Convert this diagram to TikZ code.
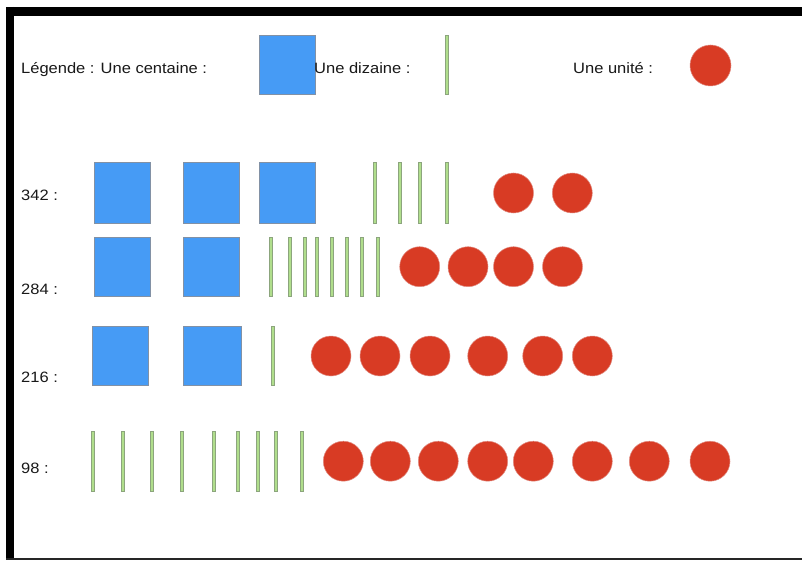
\documentclass[tikz,border=0pt]{standalone}
\usepackage{fontspec}
\setmainfont{Liberation Sans}[FakeStretch=1.1]
\definecolor{cblue}{RGB}{70,155,245}
\definecolor{cblueedge}{RGB}{130,145,165}
\definecolor{cgreen}{RGB}{176,222,140}
\definecolor{cgreenedge}{RGB}{140,165,125}
\definecolor{cred}{RGB}{216,59,36}
\definecolor{crededge}{RGB}{225,140,130}
\tikzset{
  centaine/.style={rectangle, inner sep=0pt, outer sep=0pt, fill=cblue, draw=cblueedge, line width=0.8pt, minimum width=56pt, minimum height=#1},
  centaine/.default=60pt,
  dizaine/.style={rectangle, inner sep=0pt, outer sep=0pt, fill=cgreen, draw=cgreenedge, line width=0.6pt, minimum width=2.9pt, minimum height=#1},
  dizaine/.default=60pt,
  unite/.style={circle, inner sep=0pt, outer sep=0pt, fill=cred, draw=crededge, line width=0.5pt, minimum size=40pt},
  lbl/.style={anchor=base west, inner sep=0pt, font=\fontsize{15}{18}\selectfont, text=black!90}
}
\begin{document}
\begin{tikzpicture}[x=1pt, y=-1pt]
\useasboundingbox (0,0) rectangle (802,561);
\fill[white] (0,0) rectangle (802,561);
% frame
\draw[line width=8pt, black] (10,7) -- (10,560);
\draw[line width=9pt, black] (6,11.5) -- (802,11.5);
\draw[line width=2pt, black!85] (6,559.2) -- (802,559.2);
% legend
\node[lbl] (leg1) at (21,74) {Légende : Une centaine :};
\node[centaine=59.5pt] (legc) at (287,65) {};
\node[lbl] (leg2) at (314,74) {Une dizaine :};
\node[dizaine=59pt] (legd) at (447,64.5) {};
\node[lbl] (leg3) at (573,74) {Une unité :};
\node[unite, minimum size=41pt] (legu) at (710.5,65.5) {};
% 342
\node[lbl] (n342) at (21,201) {342 :};
\foreach \x [count=\i] in {122.3,210.9,287.3}
  \node[centaine=60.6pt] (c342-\i) at (\x,193) {};
\foreach \x [count=\i] in {374.5,400,420,447}
  \node[dizaine=60.6pt] (d342-\i) at (\x,193) {};
\foreach \x [count=\i] in {513.5,572.3}
  \node[unite] (u342-\i) at (\x,193) {};
% 284
\node[lbl] (n284) at (21,294) {284 :};
\foreach \x [count=\i] in {122.3,210.9}
  \node[centaine=58.7pt] (c284-\i) at (\x,266.7) {};
\foreach \x [count=\i] in {271,289.5,305,316.7,331.7,346.7,361.7,377.5}
  \node[dizaine=58.7pt] (d284-\i) at (\x,266.7) {};
\foreach \x [count=\i] in {419.7,468,513.5,562.5}
  \node[unite] (u284-\i) at (\x,266.7) {};
% 216
\node[lbl] (n216) at (21,382.5) {216 :};
\node[centaine=59pt] (c216-1) at (120.7,355.8) {};
\node[centaine=59pt, minimum width=58pt] (c216-2) at (212.3,355.8) {};
\node[dizaine=59pt] (d216-1) at (273,355.8) {};
\foreach \x [count=\i] in {331,380,430,487.7,542.7,592.3}
  \node[unite] (u216-\i) at (\x,356) {};
% 98
\node[lbl] (n98) at (21,473) {98 :};
\foreach \x [count=\i] in {93,123,152,182,214,238,258,276,302}
  \node[dizaine=60.7pt] (d98-\i) at (\x,461.3) {};
\foreach \x [count=\i] in {343.3,390.3,438.3,487.7,533.3,592.3,649.3,710}
  \node[unite] (u98-\i) at (\x,461.2) {};
\end{tikzpicture}
\end{document}
